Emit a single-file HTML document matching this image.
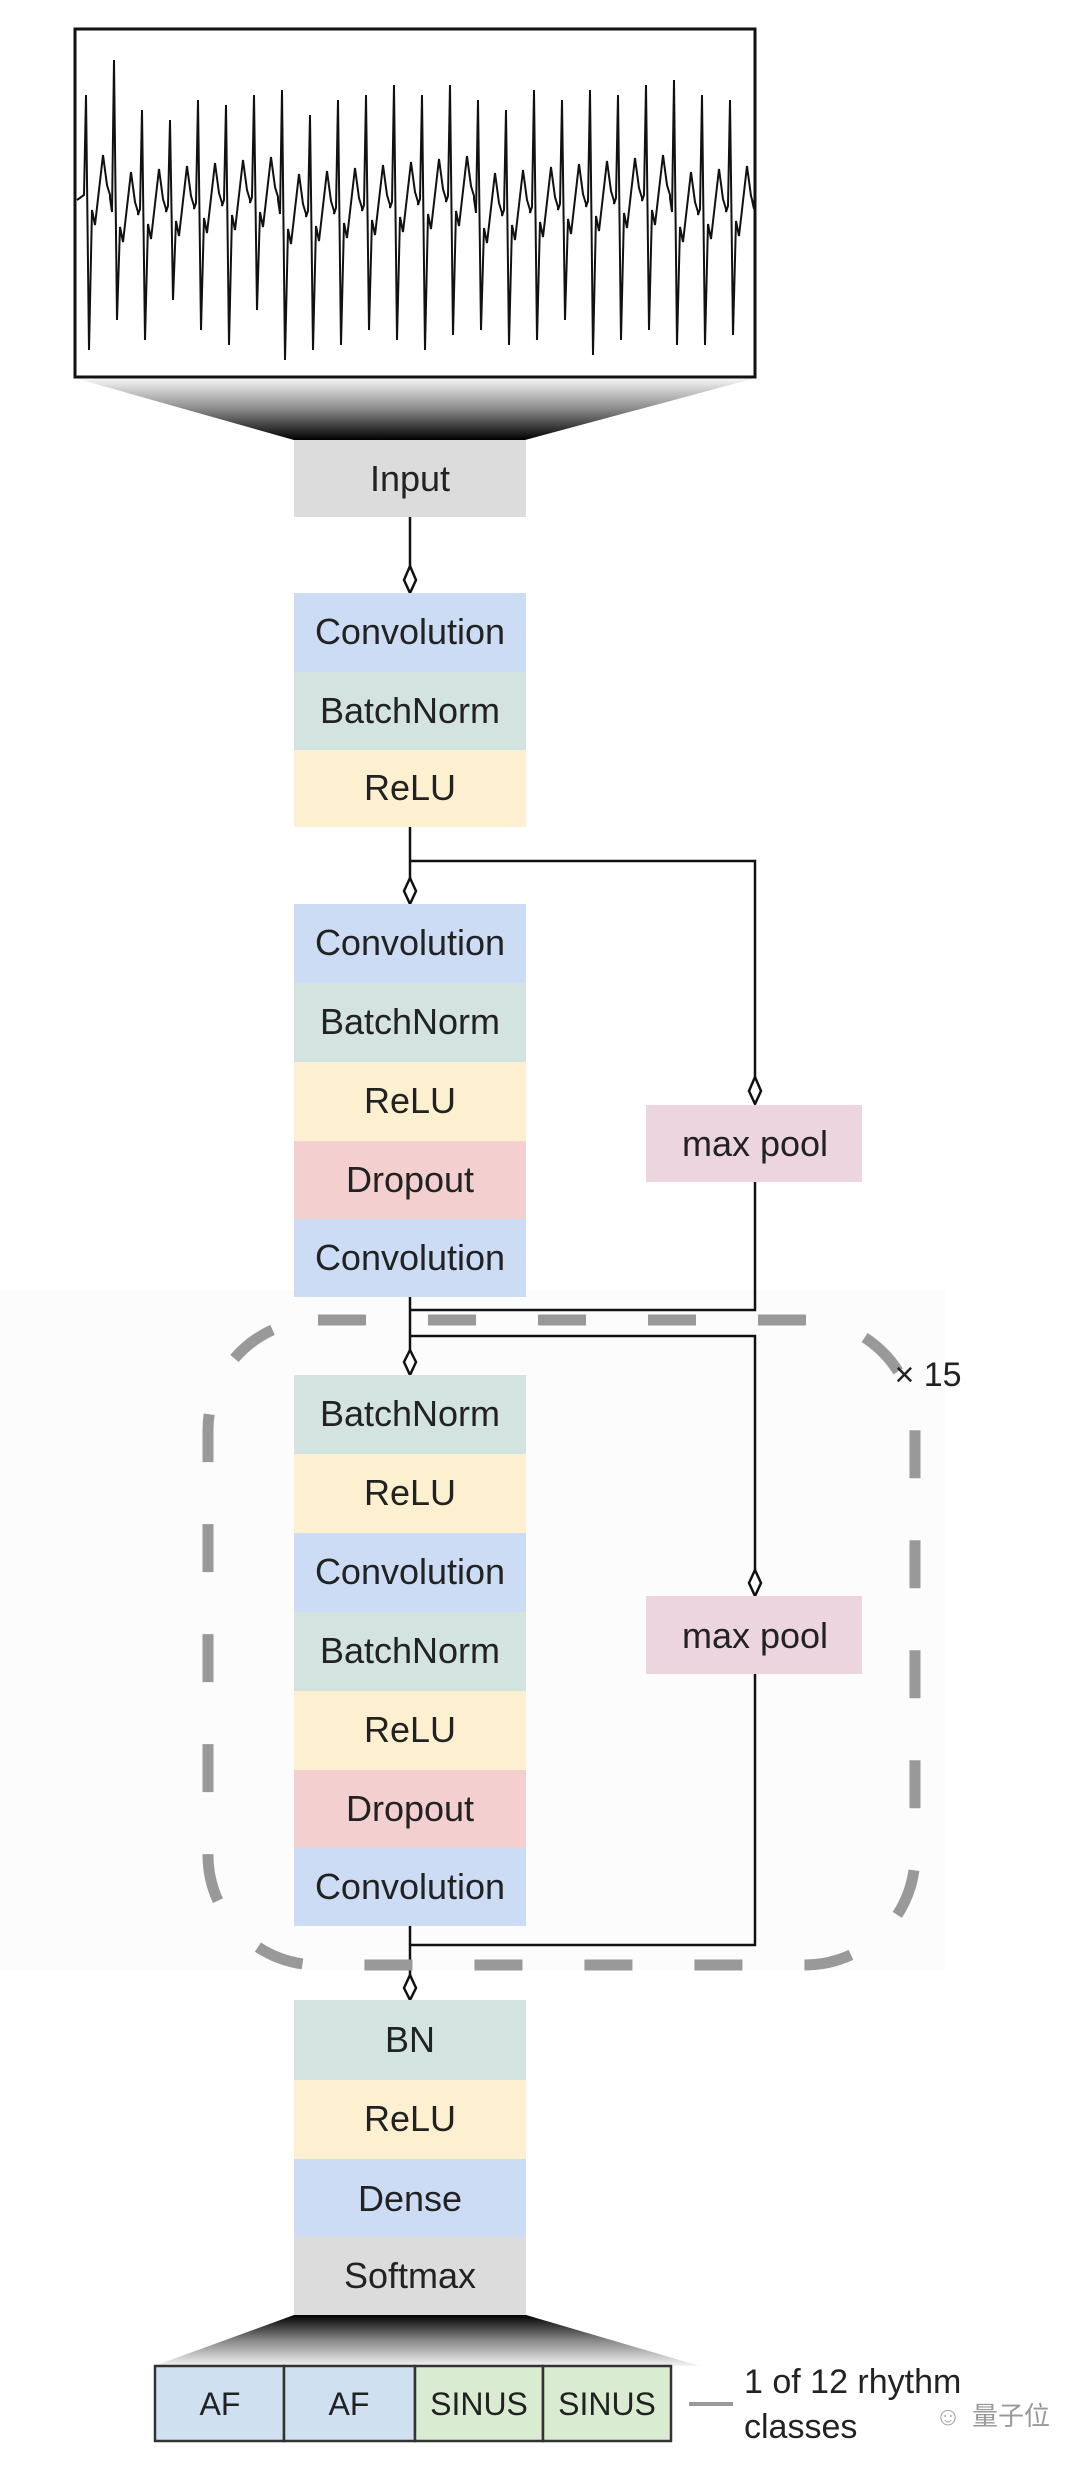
<!DOCTYPE html>
<html><head><meta charset="utf-8"><style>
html,body{margin:0;padding:0;background:#fff;}
body{width:1080px;height:2466px;position:relative;overflow:hidden;font-family:"Liberation Sans",sans-serif;}
svg{position:absolute;left:0;top:0;}
</style></head><body>
<svg width="1080" height="2466" viewBox="0 0 1080 2466" xmlns="http://www.w3.org/2000/svg">
<defs>
<linearGradient id="fg1" x1="0" y1="0" x2="0" y2="1"><stop offset="0" stop-color="#f4f4f4"/><stop offset="0.5" stop-color="#888"/><stop offset="1" stop-color="#000"/></linearGradient>
<linearGradient id="fg2" x1="0" y1="1" x2="0" y2="0"><stop offset="0" stop-color="#f4f4f4"/><stop offset="0.5" stop-color="#888"/><stop offset="1" stop-color="#000"/></linearGradient>
</defs>
<rect x="0" y="1290" width="945" height="680" fill="#fcfcfc"/>
<rect x="75" y="29" width="680" height="348" fill="#fff" stroke="#111" stroke-width="3"/>
<path id="ecg" d="" fill="none" stroke="#111" stroke-width="2"/>
<polygon points="78,379 752,379 525,440 294,440" fill="url(#fg1)"/>
<g font-size="36" fill="#222" text-anchor="middle" font-family="Liberation Sans, sans-serif">
<rect x="294" y="440" width="232" height="77" fill="#dcdcdc"/><text x="410" y="491">Input</text>
<g stroke="#111" stroke-width="2.5" fill="none">
<line x1="410" y1="517" x2="410" y2="566"/>
<line x1="410" y1="827" x2="410" y2="880"/>
<polyline points="410,861 755,861 755,1077"/>
<polyline points="755,1182 755,1310 410,1310"/>
<line x1="410" y1="1297" x2="410" y2="1352"/>
<polyline points="410,1336 755,1336 755,1572"/>
<polyline points="755,1674 755,1945 410,1945"/>
<line x1="410" y1="1926" x2="410" y2="1981"/>
</g>
<g stroke="#111" stroke-width="2.5" fill="#fff">
<polygon points="410,566 416,580 410,593 404,580"/>
<polygon points="410,878 416,891 410,904 404,891"/>
<polygon points="755,1077 761,1091 755,1104 749,1091"/>
<polygon points="410,1350 416,1362 410,1375 404,1362"/>
<polygon points="755,1570 761,1583 755,1596 749,1583"/>
<polygon points="410,1975 416,1988 410,2000 404,1988"/>
</g>
<rect x="294" y="593" width="232" height="79" fill="#cddcf5"/><text x="410" y="644">Convolution</text>
<rect x="294" y="672" width="232" height="78" fill="#d3e3e0"/><text x="410" y="723">BatchNorm</text>
<rect x="294" y="750" width="232" height="77" fill="#fdf0d0"/><text x="410" y="800">ReLU</text>
<rect x="294" y="904" width="232" height="79" fill="#cddcf5"/><text x="410" y="955">Convolution</text>
<rect x="294" y="983" width="232" height="79" fill="#d3e3e0"/><text x="410" y="1034">BatchNorm</text>
<rect x="294" y="1062" width="232" height="79" fill="#fdf0d0"/><text x="410" y="1113">ReLU</text>
<rect x="294" y="1141" width="232" height="78" fill="#f3cfd0"/><text x="410" y="1192">Dropout</text>
<rect x="294" y="1219" width="232" height="78" fill="#cddcf5"/><text x="410" y="1270">Convolution</text>
<rect x="646" y="1105" width="216" height="77" fill="#ecd5df"/><text x="755" y="1156">max pool</text>
<rect x="294" y="1375" width="232" height="79" fill="#d3e3e0"/><text x="410" y="1426">BatchNorm</text>
<rect x="294" y="1454" width="232" height="79" fill="#fdf0d0"/><text x="410" y="1505">ReLU</text>
<rect x="294" y="1533" width="232" height="79" fill="#cddcf5"/><text x="410" y="1584">Convolution</text>
<rect x="294" y="1612" width="232" height="79" fill="#d3e3e0"/><text x="410" y="1663">BatchNorm</text>
<rect x="294" y="1691" width="232" height="79" fill="#fdf0d0"/><text x="410" y="1742">ReLU</text>
<rect x="294" y="1770" width="232" height="78" fill="#f3cfd0"/><text x="410" y="1821">Dropout</text>
<rect x="294" y="1848" width="232" height="78" fill="#cddcf5"/><text x="410" y="1899">Convolution</text>
<rect x="646" y="1596" width="216" height="78" fill="#ecd5df"/><text x="755" y="1648">max pool</text>
<rect x="208" y="1320" width="707" height="645" rx="110" ry="110" fill="none" stroke="#999" stroke-width="11" stroke-dasharray="48 62"/>
<text x="928" y="1386" font-size="34" text-anchor="middle">× 15</text>
<rect x="294" y="2000" width="232" height="80" fill="#d3e3e0"/><text x="410" y="2052">BN</text>
<rect x="294" y="2080" width="232" height="79" fill="#fdf0d0"/><text x="410" y="2131">ReLU</text>
<rect x="294" y="2159" width="232" height="78" fill="#cddcf5"/><text x="410" y="2211">Dense</text>
<rect x="294" y="2237" width="232" height="78" fill="#dcdcdc"/><text x="410" y="2288">Softmax</text>
<polygon points="294,2315 526,2315 700,2366 154,2366" fill="url(#fg2)"/>
<g stroke="#333" stroke-width="2.5">
<rect x="155" y="2366" width="129" height="75" fill="#cfe0f1"/>
<rect x="284" y="2366" width="131" height="75" fill="#cfe0f1"/>
<rect x="415" y="2366" width="128" height="75" fill="#d9ebd0"/>
<rect x="543" y="2366" width="128" height="75" fill="#d9ebd0"/>
</g>
<g font-size="32"><text x="220" y="2415">AF</text><text x="349" y="2415">AF</text><text x="479" y="2415">SINUS</text><text x="607" y="2415">SINUS</text></g>
<line x1="689" y1="2404" x2="733" y2="2404" stroke="#999" stroke-width="4"/>
<text x="744" y="2393" font-size="34" text-anchor="start">1 of 12 rhythm</text>
<text x="744" y="2438" font-size="34" text-anchor="start">classes</text>
<text x="972" y="2425" font-size="26" fill="#999" text-anchor="start" font-family="Liberation Sans, Noto Sans CJK SC, sans-serif">量子位</text>
<text x="948" y="2425" font-size="26" fill="#aaa">☺</text>
</g>
</svg>
<script>
(function(){
var d="M77,200";var x0=80,x1=752,n=24,step=(x1-x0)/n;
var ups=[95,60,110,120,100,105,95,90,115,100,95,85,95,85,100,110,90,100,90,95,85,80,95,100];
var downs=[350,320,340,300,330,345,310,360,350,345,330,340,350,335,330,345,340,320,355,340,330,345,345,335];
for(var i=0;i<n;i++){var b=x0+i*step+6;var base=205+((i*37)%20)-10;
d+=" L"+(b-2)+","+base+" L"+(b)+","+ups[i]+" L"+(b+3)+","+downs[i]+" L"+(b+6)+","+(base+15)+" L"+(b+9)+","+(base+30)+" L"+(b+13)+","+(base-5)+" L"+(b+17)+","+(base-40)+" L"+(b+21)+","+(base-10)+" L"+(b+24)+","+base+" L"+(b+step-4)+","+(base+3);}
d+=" L752,200";document.getElementById("ecg").setAttribute("d",d);})();
</script>
</body></html>
